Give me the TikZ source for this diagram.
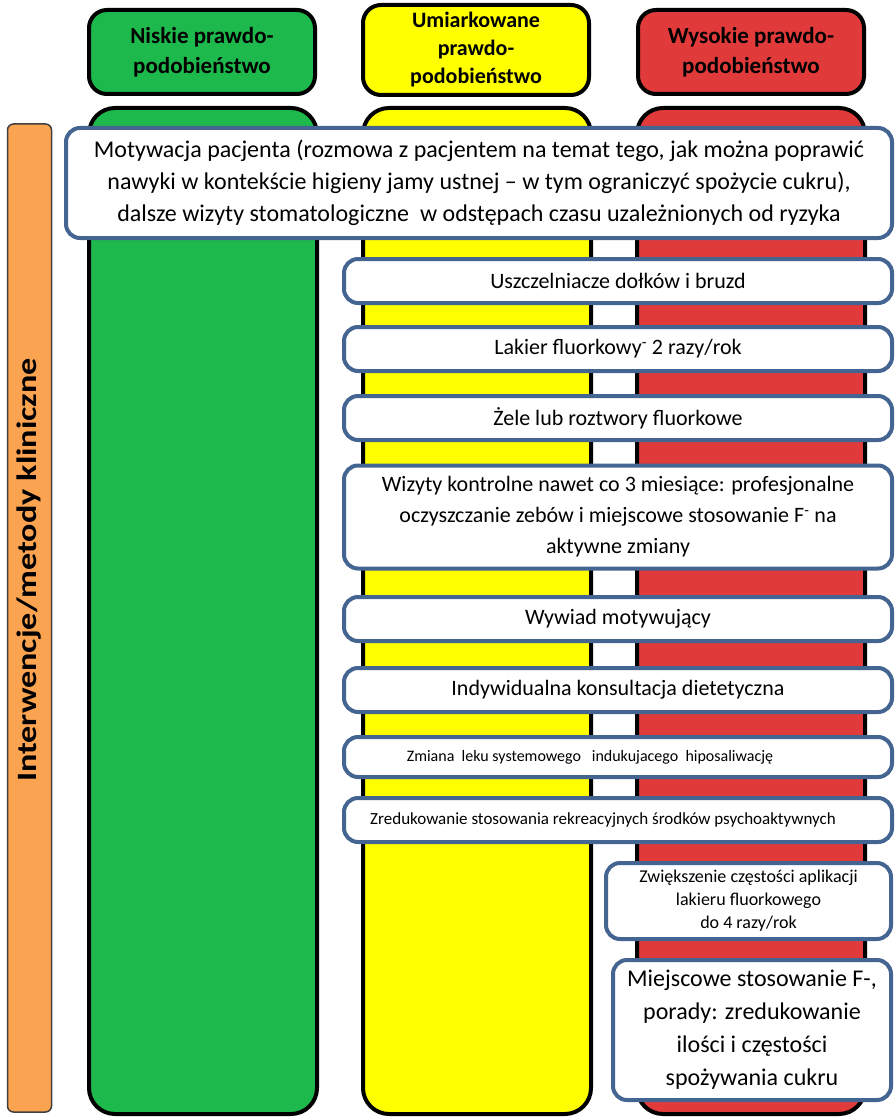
\documentclass[tikz,border=0pt]{standalone}
\usepackage{fontspec}
\setmainfont{Carlito}
\usetikzlibrary{positioning}

\definecolor{lowgreen}{RGB}{30,185,76}
\definecolor{midyellow}{RGB}{255,255,0}
\definecolor{highred}{RGB}{225,58,58}
\definecolor{barorange}{RGB}{250,163,80}
\definecolor{boxblue}{RGB}{68,100,145}

\begin{document}
\begin{tikzpicture}[x=1pt, y=-1pt,
  header/.style={draw=black, line width=4pt, rounded corners=18pt,
    minimum width=226pt, align=center, inner sep=0pt,
    font=\fontsize{23}{30}\selectfont\bfseries},
  column/.style={draw=black, line width=4pt, rounded corners=26pt,
    minimum width=228pt, minimum height=1006pt, inner sep=0pt},
  measure/.style={draw=boxblue, fill=white, line width=4pt,
    rounded corners=14pt, align=center, inner sep=0pt},
  row/.style={measure, minimum width=548pt, minimum height=44pt,
    font=\fontsize{22}{31}\selectfont}]

\useasboundingbox (0,0) rectangle (896,1118);

% risk headers
\node [header, fill=lowgreen, minimum height=84pt] (head-1) at (202,52)
  {Niskie prawdo-\\podobieństwo};
\node [header, fill=midyellow, minimum height=90pt,
  font=\fontsize{22}{28}\selectfont\bfseries] (head-2) at (476,50)
  {Umiarkowane\\prawdo-\\podobieństwo};
\node [header, fill=highred, minimum height=84pt] (head-3) at (751,52)
  {Wysokie prawdo-\\podobieństwo};

% columns
\foreach \c/\x [count=\i] in {lowgreen/203, midyellow/477, highred/751}
  \node [column, fill=\c] (column-\i) at (\x,611) {};

% side bar
\node [draw=black!75, fill=barorange, line width=1.5pt, rounded corners=6pt,
  minimum width=44pt, minimum height=988pt] (bar) at (29.5,618) {};
\node [rotate=90, font=\fontsize{28}{28}\selectfont\bfseries] (bar-label)
  at ([yshift=48pt]bar.center)
  {\scalebox{1.22}[1]{Interwencje/metody kliniczne}};

% interventions
\node [measure, minimum width=826pt, minimum height=110pt,
  font=\fontsize{24}{32}\selectfont] (motivation) at (479,183)
  {\rule{0pt}{14pt}Motywacja pacjenta (rozmowa z pacjentem na temat tego, jak można poprawić\\
   nawyki w kontekście higieny jamy ustnej -- w tym ograniczyć spożycie cukru),\\
   dalsze wizyty stomatologiczne~ w odstępach czasu uzależnionych od ryzyka};

\foreach \y/\t [count=\i] in {281/{Uszczelniacze dołków i bruzd},
    349/{Lakier fluorkowy\textsuperscript{-} 2 razy/rok},
    418/{Żele lub roztwory fluorkowe},
    619/{Wywiad motywujący},
    690/{Indywidualna konsultacja dietetyczna}}
  \node [row] (row-\i) at (618,\y) {\t};

\node [row, minimum height=103pt] (visits) at (618,517)
  {Wizyty kontrolne nawet co 3 miesiące: profesjonalne\\
   oczyszczanie zebów i miejscowe stosowanie F\textsuperscript{-} na\\
   aktywne zmiany};
\node [row, minimum height=40pt, font=\fontsize{16}{20}\selectfont] (drug)
  at (618,757)
  {Zmiana~ leku systemowego~~ indukujacego~ hiposaliwację\hspace*{56pt}};
\node [row, font=\fontsize{17}{20}\selectfont] (recreation) at (618,820)
  {Zredukowanie stosowania rekreacyjnych środków psychoaktywnych\hspace*{30pt}};

\node [measure, minimum width=285pt, minimum height=76pt,
  font=\fontsize{18}{23}\selectfont] (varnish) at (748.5,901)
  {Zwiększenie częstości aplikacji\\lakieru fluorkowego\\do 4 razy/rok};
\node [measure, minimum width=278pt, minimum height=140pt,
  font=\fontsize{24}{33}\selectfont] (topical) at (752,1030)
  {Miejscowe stosowanie F-,\\porady: zredukowanie\\ilości i częstości\\
   spożywania cukru};

\end{tikzpicture}
\end{document}
